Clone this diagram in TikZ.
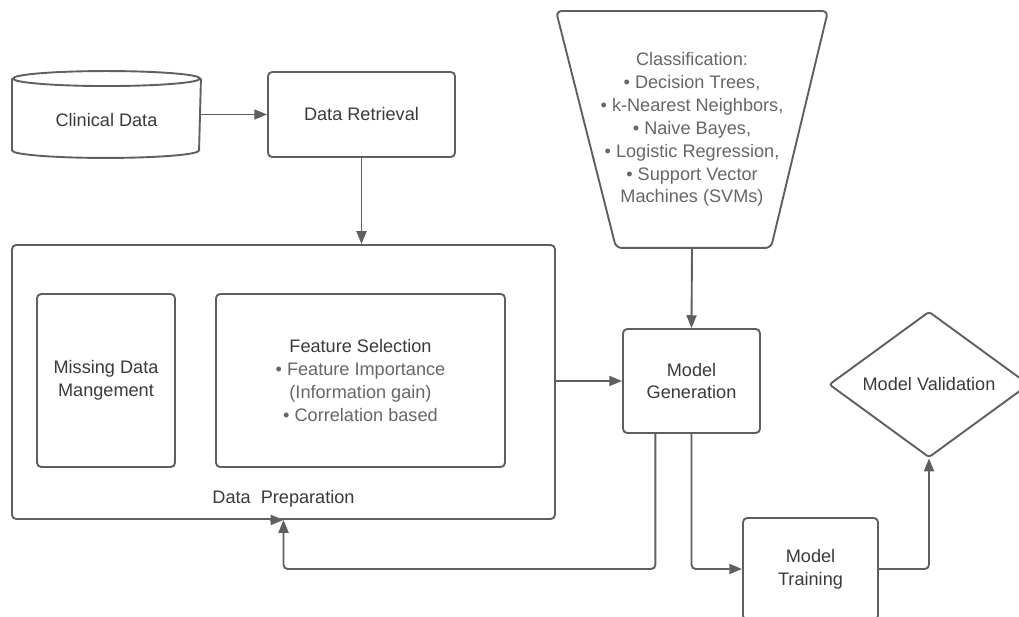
\documentclass[tikz,border=0pt]{standalone}
\usepackage{fontspec}
\setmainfont{Liberation Sans}
\usepackage{tikz}
\usetikzlibrary{shapes, arrows.meta, calc}
\definecolor{linegray}{HTML}{5F5F5F}
\definecolor{textdark}{HTML}{3A3A3A}
\definecolor{textlight}{HTML}{666666}

\begin{document}
\begin{tikzpicture}[x=0.25mm, y=-0.25mm, line width=1.35pt, color=linegray,
    every node/.style={font=\fontsize{12.9}{16.3}\selectfont, text=textdark, align=center, inner sep=0pt},
    box/.style={draw, rounded corners=3pt},
    arr/.style={-{Triangle[length=3.2mm, width=2.5mm]}, rounded corners=3pt}]
  \useasboundingbox (0,0) rectangle (1019,617);

  \node (clin) [minimum width=46.75mm, minimum height=21.25mm] at (106.5,114.5) {};
  \draw ($(clin.north)+(0,7.5)$) ellipse [x radius=23.375mm, y radius=1.875mm];
  \draw ($(clin.north west)+(0,7.5)$) -- ($(clin.south west)+(0,-7.5)$)
    arc[start angle=180, end angle=360, x radius=23.375mm, y radius=1.875mm]
    -- ($(clin.north east)+(0,7.5)$);
  \node (clint) at ($(clin.center)+(0,5.5)$) {Clinical Data};

  \node[box, minimum width=46.75mm, minimum height=21.25mm] (ret) at (361.5,114.5) {Data Retrieval};

  \node[box, minimum width=135.75mm, minimum height=68.5mm] (prep) at (283.5,382) {};
  \node[box, minimum width=34.5mm, minimum height=43.25mm] (miss) at (106,380.5) {Missing Data\\Mangement};
  \node[box, minimum width=72.25mm, minimum height=43.25mm] (feat) at (360.5,380.5)
    {Feature Selection\\\color{textlight}• Feature Importance\\\color{textlight}(Information gain)\\\color{textlight}• Correlation based};
  \node (plab) at ($(prep.south)+(0,-21)$) {Data~~Preparation};

  \node[minimum width=67.5mm, minimum height=58.75mm, text=textlight] (fun) at (692,129.5)
    {Classification:\\• Decision Trees,\\• k-Nearest Neighbors,\\• Naive Bayes,\\• Logistic Regression,\\• Support Vector\\Machines (SVMs)};
  \draw[rounded corners=4pt] (fun.north west) -- (fun.north east) -- ($(fun.south east)+(-57,0)$)
    -- ($(fun.south west)+(60,0)$) -- cycle;

  \node[box, minimum width=34.25mm, minimum height=26mm] (mg) at (691.5,381) {Model\\Generation};
  \node[box, minimum width=33.75mm, minimum height=25.5mm] (mt) at (810.5,569) {Model\\Training};
  \node[draw, diamond, rounded corners=2pt, minimum width=50mm, minimum height=35.25mm] (val) at (929,384.5) {Model Validation};

  \draw[arr] (clin.east) -- (ret.west);
  \draw[arr] (ret.south) -- (ret.south |- prep.north);
  \draw[arr] (prep.east |- mg.west) -- (mg.west);
  \draw[arr] (fun.south) -- (mg.north);
  \draw[arr] ($(mg.south west)!0.24!(mg.south east)$) |- (prep.south |- mt.west) -- (prep.south);
  \draw[arr] ($(prep.south)+(-14,0)$) -- (prep.south);
  \draw[arr] (mg.south) |- (mt.west);
  \draw[arr] (mt.east) -| (val.south);
\end{tikzpicture}
\end{document}
